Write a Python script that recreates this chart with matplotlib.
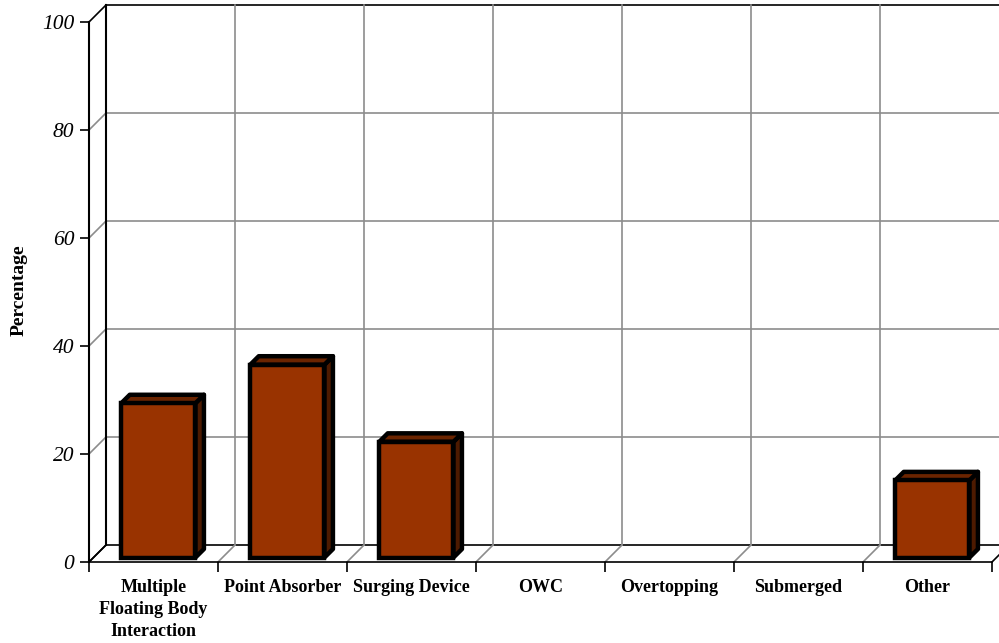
import matplotlib
matplotlib.use("Agg")
import matplotlib.pyplot as plt
from matplotlib.patches import Polygon
import numpy as np

categories = ["Multiple\nFloating Body\nInteraction", "Point Absorber", "Surging Device",
              "OWC", "Overtopping", "Submerged", "Other"]
percentages = [28.57, 35.71, 21.43, 0.0, 0.0, 0.0, 14.29]
y_ticks = [0, 20, 40, 60, 80, 100]

plt.rcParams['font.family'] = ['Liberation Serif', 'DejaVu Serif']

face_col = '#993300'
top_col = '#6b2400'
side_col = '#4d1a00'
grid_col = '#8c8c8c'

fig = plt.figure(figsize=(9.99, 6.43), dpi=100)
ax = fig.add_axes([89 / 999, 81 / 643, 903 / 999, 540 / 643])
ax.set_xlim(0, 7)
ax.set_ylim(0, 100)

# depth of the "3d" box in data units
dx, dy = 17 / 129, 17 / 5.4
n = len(categories)

# back wall
for v in y_ticks:
    c = 'black' if v in (0, 100) else grid_col
    ax.plot([dx, n + dx], [v + dy, v + dy], color=c, lw=1.2, clip_on=False, zorder=1)
    ax.plot([0, dx], [v, v + dy], color=c if v != 0 else 'black', lw=1.2, clip_on=False, zorder=1)
for k in range(1, n):
    ax.plot([k + dx, k + dx], [dy, 100 + dy], color=grid_col, lw=1.2, clip_on=False, zorder=1)
ax.plot([dx, dx], [dy, 100 + dy], color='black', lw=1.5, clip_on=False, zorder=1)
# floor diagonals
for k in range(0, n + 1):
    c = 'black' if k in (0, n) else grid_col
    ax.plot([k, k + dx], [0, dy], color=c, lw=1.2, clip_on=False, zorder=1)

# bars
shift_x, shift_y = 0.035, 0.83
bd_x, bd_y = 0.066, 1.57
bw = 0.575
for k, val in enumerate(percentages):
    if val <= 0:
        continue
    x0 = k + 0.215 + shift_x
    x1 = x0 + bw
    y0 = shift_y
    y1 = val + shift_y
    side = Polygon([(x1, y0), (x1 + bd_x, y0 + bd_y), (x1 + bd_x, y1 + bd_y), (x1, y1)],
                   closed=True, facecolor=side_col, edgecolor='black', lw=3.2,
                   joinstyle='round', zorder=3, clip_on=False)
    top = Polygon([(x0, y1), (x0 + bd_x, y1 + bd_y), (x1 + bd_x, y1 + bd_y), (x1, y1)],
                  closed=True, facecolor=top_col, edgecolor='black', lw=3.2,
                  joinstyle='round', zorder=3, clip_on=False)
    ax.add_patch(side)
    ax.add_patch(top)
    ax.bar(x0, val, width=bw, bottom=y0, align='edge', color=face_col,
           edgecolor='black', linewidth=3.2, zorder=4, clip_on=False)

# axes styling
for s in ['top', 'right']:
    ax.spines[s].set_visible(False)
ax.spines['left'].set_linewidth(1.5)
ax.spines['bottom'].set_linewidth(1.2)
ax.spines['left'].set_zorder(2)

ax.set_yticks(y_ticks)
ax.set_yticklabels([str(v) for v in y_ticks], fontsize=15.5, fontstyle='italic')
ax.tick_params(axis='y', length=6.5, width=1.2, pad=4)

ax.set_xticks(np.arange(n) + 0.5)
ax.set_xticklabels(categories, fontsize=13, fontweight='bold', linespacing=1.4)
ax.tick_params(axis='x', which='major', length=0, pad=12)
ax.set_xticks(np.arange(n + 1), minor=True)
ax.tick_params(axis='x', which='minor', length=7.2, width=1.2)

fig.text(19 / 999, 1 - 290 / 643, 'Percentage', rotation=90, fontsize=14,
         fontweight='bold', ha='center', va='center')

fig.savefig('out.png', dpi=100)
